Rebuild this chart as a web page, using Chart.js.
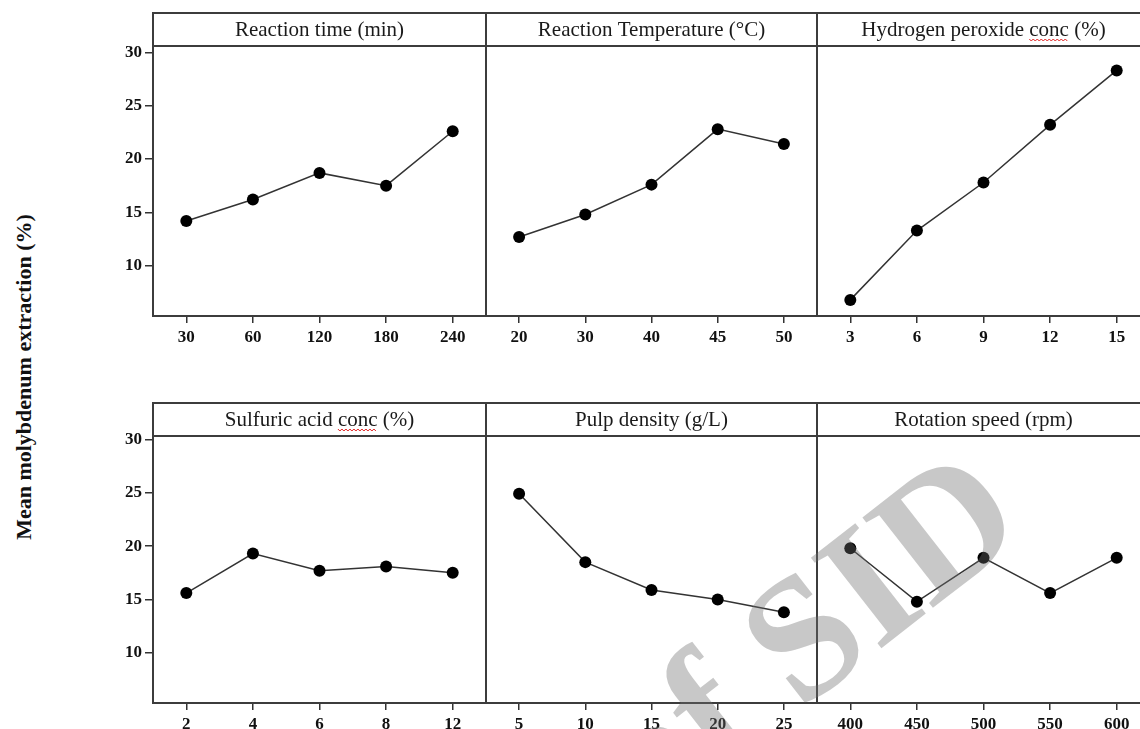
<!DOCTYPE html>
<html>
<head>
<meta charset="utf-8">
<script src="https://cdn.jsdelivr.net/npm/chart.js@4"></script>
<style>
  html, body { margin: 0; padding: 0; background: #fff; overflow: hidden; }
  #wrap { position: relative; width: 1140px; height: 729px; overflow: hidden; }
  canvas { position: absolute; }
  #ytitle {
    position: absolute; left: 24px; top: 377px;
    transform: translate(-50%, -50%) rotate(-90deg);
    font: bold 22px "Liberation Serif", serif; color: #111; white-space: nowrap;
  }
  #mark { pointer-events: none; }
</style>
</head>
<body>
<div id="wrap">
  <div id="ytitle">Mean molybdenum extraction (%)</div>
  <canvas id="c1" width="492" height="360" style="left:0;top:0"></canvas>
  <canvas id="c2" width="343" height="360" style="left:480px;top:0"></canvas>
  <canvas id="c3" width="349" height="360" style="left:811px;top:0"></canvas>
  <canvas id="c4" width="492" height="349" style="left:0;top:380px"></canvas>
  <canvas id="c5" width="343" height="349" style="left:480px;top:380px"></canvas>
  <canvas id="c6" width="349" height="349" style="left:811px;top:380px"></canvas>
  <canvas id="mark" width="1140" height="729" style="left:0;top:0"></canvas>
</div>
<script>
// valeurs (moyennes d'extraction du molybdène, %)
const timeLabels = ['30', '60', '120', '180', '240'];
const timeMeans = [14.2, 16.2, 18.7, 17.5, 22.6];
const tempLabels = ['20', '30', '40', '45', '50'];
const tempMeans = [12.7, 14.8, 17.6, 22.8, 21.4];
const peroxideLabels = ['3', '6', '9', '12', '15'];
const peroxideMeans = [6.8, 13.3, 17.8, 23.2, 28.3];
const acidLabels = ['2', '4', '6', '8', '12'];
const acidMeans = [15.6, 19.3, 17.7, 18.1, 17.5];
const pulpLabels = ['5', '10', '15', '20', '25'];
const pulpMeans = [24.9, 18.5, 15.9, 15.0, 13.8];
const speedLabels = ['400', '450', '500', '550', '600'];
const speedMeans = [19.8, 14.8, 18.9, 15.6, 18.9];
const yTicks = [10, 15, 20, 25, 30];

const serif = '"Liberation Serif", "Times New Roman", serif';
const HEADER = 33;

// cadre du panneau + bandeau de titre
const framePlugin = {
    id: 'frame',
    afterDraw(chart, args, opts) {
        const { ctx, chartArea: a } = chart;
        const top = a.top - HEADER;
        ctx.save();
        ctx.strokeStyle = '#3c3c3c';
        ctx.lineWidth = 2;
        ctx.strokeRect(a.left, top, a.right - a.left, a.bottom - top);
        ctx.beginPath();
        ctx.moveTo(a.left, a.top);
        ctx.lineTo(a.right, a.top);
        ctx.stroke();

        const cx = (a.left + a.right) / 2;
        const ty = top + HEADER / 2 + 1;
        ctx.font = '21px ' + serif;
        ctx.fillStyle = '#1a1a1a';
        ctx.textAlign = 'center';
        ctx.textBaseline = 'middle';
        ctx.fillText(opts.title, cx, ty);

        // soulignement ondulé rouge sous "conc"
        const i = opts.title.indexOf('conc');
        if (i >= 0) {
            const full = ctx.measureText(opts.title).width;
            const x0 = cx - full / 2 + ctx.measureText(opts.title.slice(0, i)).width;
            const x1 = x0 + ctx.measureText('conc').width;
            const y = ty + 9;
            ctx.strokeStyle = '#e02020';
            ctx.lineWidth = 1;
            ctx.beginPath();
            for (let x = x0, k = 0; x <= x1; x += 2, k++) {
                const yy = y + (k % 2 ? 1.5 : -0.5);
                if (k === 0) ctx.moveTo(x, yy); else ctx.lineTo(x, yy);
            }
            ctx.stroke();
        }
        ctx.restore();
    }
};

function makePanel(id, labels, values, title, row, withY, pad) {
    const ctx = document.getElementById(id).getContext('2d');
    const top = row === 0;
    new Chart(ctx, {
        type: 'line',
        data: {
            labels: labels,
            datasets: [{
                data: values,
                borderColor: '#333',
                borderWidth: 1.5,
                pointRadius: 6,
                pointBackgroundColor: '#000',
                pointBorderColor: '#000',
                pointBorderWidth: 0,
                tension: 0
            }]
        },
        options: {
            responsive: false,
            animation: false,
            events: [],
            layout: { padding: { top: top ? 46 : 56, left: pad.left, right: pad.right, bottom: 0 } },
            plugins: {
                legend: { display: false },
                tooltip: { enabled: false },
                frame: { title: title }
            },
            scales: {
                x: {
                    type: 'category',
                    offset: true,
                    border: { display: false },
                    grid: { drawOnChartArea: false, tickLength: 7, color: '#333', lineWidth: 1.5 },
                    ticks: { color: '#111', padding: 4, maxRotation: 0, font: { family: serif, size: 17, weight: 'bold' } },
                    afterFit: s => { s.height = top ? 44 : 26; }
                },
                y: {
                    display: withY,
                    min: top ? 5.29 : 5.31,
                    max: top ? 30.59 : 30.31,
                    afterBuildTicks: s => { s.ticks = yTicks.map(v => ({ value: v })); },
                    border: { display: false },
                    grid: { drawOnChartArea: false, tickLength: 8, color: '#333', lineWidth: 1.5 },
                    ticks: { color: '#111', padding: 3, font: { family: serif, size: 17, weight: 'bold' } },
                    afterFit: s => { s.width = withY ? 153 : 0; }
                }
            }
        },
        plugins: [framePlugin]
    });
}

makePanel('c1', timeLabels, timeMeans, 'Reaction time (min)', 0, true, { left: 0, right: 6 });
makePanel('c2', tempLabels, tempMeans, 'Reaction Temperature (°C)', 0, false, { left: 6, right: 6 });
makePanel('c3', peroxideLabels, peroxideMeans, 'Hydrogen peroxide conc (%)', 0, false, { left: 6, right: 10 });
makePanel('c4', acidLabels, acidMeans, 'Sulfuric acid conc (%)', 1, true, { left: 0, right: 6 });
makePanel('c5', pulpLabels, pulpMeans, 'Pulp density (g/L)', 1, false, { left: 6, right: 6 });
makePanel('c6', speedLabels, speedMeans, 'Rotation speed (rpm)', 1, false, { left: 6, right: 10 });

// filigrane de la source
const m = document.getElementById('mark').getContext('2d');
m.save();
m.translate(1030, 532);
m.rotate(-38 * Math.PI / 180);
m.font = 'bold 175px ' + serif;
m.textAlign = 'right';
m.textBaseline = 'alphabetic';
m.fillStyle = 'rgba(110, 110, 110, 0.38)';
m.fillText('Archive of SID', 0, 0);
m.restore();
</script>
</body>
</html>
